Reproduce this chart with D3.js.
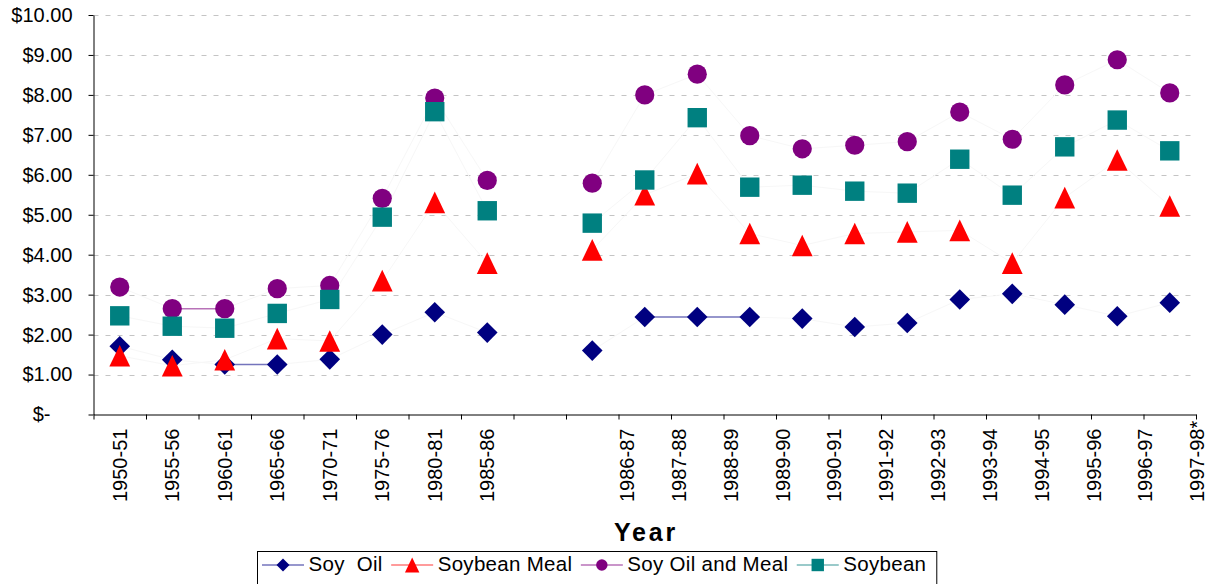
<!DOCTYPE html>
<html>
<head>
<meta charset="utf-8">
<script src="https://cdn.jsdelivr.net/npm/d3@7"></script>
<style>
  html, body { margin: 0; padding: 0; background: #fff; }
  svg { display: block; font-family: "Liberation Sans", Arial, sans-serif; }
  text { white-space: pre; }
</style>
</head>
<body>
<svg id="chart" width="1214" height="584"></svg>
<script>
// Marketing years; the empty slot separates the five-year series from the annual one.
const categories = ["1950-51", "1955-56", "1960-61", "1965-66", "1970-71", "1975-76", "1980-81", "1985-86", "",
  "1986-87", "1987-88", "1988-89", "1989-90", "1990-91", "1991-92", "1992-93", "1993-94", "1994-95",
  "1995-96", "1996-97", "1997-98*"];

// Prices in dollars per bushel equivalent
const soyOil       = [1.71, 1.37, 1.25, 1.25, 1.38, 2.00, 2.56, 2.05, null, 1.60, 2.44, 2.44, 2.44, 2.40, 2.19, 2.29, 2.88, 3.02, 2.75, 2.46, 2.80];
const soybeanMeal  = [1.47, 1.22, 1.37, 1.90, 1.84, 3.35, 5.31, 3.79, null, 4.12, 5.50, 6.03, 4.53, 4.23, 4.53, 4.57, 4.61, 3.79, 5.43, 6.37, 5.22];
const soyOilMeal   = [3.19, 2.65, 2.65, 3.15, 3.23, 5.41, 7.92, 5.86, null, 5.79, 8.00, 8.52, 6.98, 6.65, 6.74, 6.83, 7.57, 6.89, 8.25, 8.88, 8.05];
const soybean      = [2.47, 2.21, 2.16, 2.53, 2.88, 4.94, 7.58, 5.10, null, 4.79, 5.87, 7.43, 5.69, 5.74, 5.59, 5.54, 6.39, 5.49, 6.70, 7.37, 6.60];

const seriesNames  = ["Soy  Oil", "Soybean Meal", "Soy Oil and Meal", "Soybean"];
const yTicks       = [0, 1, 2, 3, 4, 5, 6, 7, 8, 9, 10];
const axisTitle    = "Year";

(function draw() {
  // Marker shapes, drawn around (0,0) with half-size s
  const shapes = {
    diamond:  s => `M0,${-s}L${s},0L0,${s}L${-s},0Z`,
    triangle: s => `M0,${-s * 1.04}L${s},${s * 1.04}L${-s},${s * 1.04}Z`,
    circle:   s => `M${-s},0A${s},${s} 0 1,1 ${s},0A${s},${s} 0 1,1 ${-s},0Z`,
    square:   s => `M${-s},${-s}H${s}V${s}H${-s}Z`
  };

  const series = [
    { name: seriesNames[0], values: soyOil,      shape: "diamond",  size: 10.3, fill: "#000080", line: "#7474bc" },
    { name: seriesNames[1], values: soybeanMeal, shape: "triangle", size: 10.4, fill: "#ff0000", line: "#ff7a7a" },
    { name: seriesNames[2], values: soyOilMeal,  shape: "circle",   size: 9.6,  fill: "#800080", line: "#b872b8" },
    { name: seriesNames[3], values: soybean,     shape: "square",   size: 9.7,  fill: "#008080", line: "#78b8b8" }
  ];

  const svg = d3.select("#chart");
  const plotLeft = 93.5, plotRight = 1196, plotTop = 15, plotBottom = 414.5;

  const x = d3.scaleBand().domain(categories).range([plotLeft, plotRight]).padding(0);
  const xEdge = d3.scaleLinear().domain([0, categories.length]).range([plotLeft, plotRight]);
  const y = d3.scaleLinear().domain([0, 10]).range([plotBottom, plotTop]);
  const cx = c => x(c) + x.bandwidth() / 2;

  // Dashed horizontal gridlines
  svg.append("g").selectAll("line")
    .data(yTicks.filter(d => d > 0))
    .join("line")
    .attr("x1", plotLeft).attr("x2", plotRight)
    .attr("y1", d => Math.round(y(d)) + 0.5).attr("y2", d => Math.round(y(d)) + 0.5)
    .attr("stroke", "#c4c4c4").attr("stroke-width", 1)
    .attr("stroke-dasharray", "5,7");

  // Y axis
  const yAxis = svg.append("g")
    .attr("transform", `translate(${plotLeft},0)`)
    .call(d3.axisLeft(y).tickValues(yTicks)
      .tickFormat(d => d === 0 ? "$-" : d3.format("$.2f")(d))
      .tickSize(5).tickSizeOuter(0).tickPadding(16));
  yAxis.selectAll("text").attr("font-size", 20).attr("fill", "#000")
    .attr("font-family", "Liberation Sans, Arial, sans-serif");
  yAxis.selectAll(".tick").filter(d => d === 0).select("text").attr("dx", -22);
  yAxis.selectAll("path, line").attr("stroke", "#000");

  // X axis: tick marks sit on category boundaries
  const xAxis = svg.append("g")
    .attr("transform", `translate(0,${plotBottom})`)
    .call(d3.axisBottom(xEdge).tickValues(d3.range(categories.length + 1))
      .tickFormat("").tickSize(5).tickSizeOuter(0));
  xAxis.selectAll("path, line").attr("stroke", "#000");

  // Category labels: five-year group centred in its bands, annual group on its own even spacing
  const gapIndex = categories.indexOf("");
  const earlyCats = categories.slice(0, gapIndex);
  const lateCats = categories.slice(gapIndex + 1);
  const bw = x.bandwidth();
  const lateLabelX = d3.scalePoint().domain(lateCats)
    .range([x(lateCats[0]) + bw + 8.5, x(lateCats[lateCats.length - 1]) + bw + 1]);
  const labelX = c => earlyCats.includes(c) ? cx(c) : lateLabelX(c);

  svg.append("g").selectAll("text")
    .data(categories.filter(c => c !== ""))
    .join("text")
    .attr("transform", c => `translate(${labelX(c)},502) rotate(-90)`)
    .attr("dy", "0.36em")
    .attr("text-anchor", "start")
    .attr("font-size", 20)
    .attr("fill", "#000")
    .text(c => c);

  // Axis title
  svg.append("text")
    .attr("x", 646).attr("y", 541)
    .attr("text-anchor", "middle")
    .attr("font-size", 25).attr("font-weight", "bold")
    .attr("letter-spacing", 2.8)
    .attr("fill", "#000")
    .text(axisTitle);

  // Series lines and markers
  const line = d3.line()
    .defined(d => d.v !== null)
    .x(d => cx(d.c)).y(d => y(d.v));

  series.forEach(s => {
    const pts = s.values.map((v, i) => ({ c: categories[i], v }));
    svg.append("path").datum(pts)
      .attr("d", line)
      .attr("fill", "none").attr("stroke", "#f7f7f7").attr("stroke-width", 1);
    // level stretches between consecutive years show as a solid rule
    const flats = [];
    for (let i = 0; i < pts.length - 1; i++) {
      if (pts[i].v !== null && pts[i].v === pts[i + 1].v) flats.push([pts[i], pts[i + 1]]);
    }
    svg.append("g").selectAll("path").data(flats).join("path")
      .attr("d", line)
      .attr("fill", "none").attr("stroke", s.line).attr("stroke-width", 1.5);
  });

  series.forEach(s => {
    const pts = s.values.map((v, i) => ({ c: categories[i], v })).filter(d => d.v !== null);
    svg.append("g").selectAll("path").data(pts).join("path")
      .attr("transform", d => `translate(${cx(d.c)},${y(d.v)})`)
      .attr("d", shapes[s.shape](s.size))
      .attr("fill", s.fill);
  });

  // Legend
  const legend = svg.append("g");
  const legendBox = legend.append("rect")
    .attr("x", 257.5).attr("y", 551.5).attr("height", 40)
    .attr("fill", "#fff").attr("stroke", "#000").attr("stroke-width", 1);
  let lx = 262;
  const ly = 565;
  const legendSizes = { diamond: 6.5, triangle: 7.2, circle: 5.7, square: 6.2 };
  series.forEach(s => {
    legend.append("line")
      .attr("x1", lx).attr("x2", lx + 42).attr("y1", ly).attr("y2", ly)
      .attr("stroke", s.line).attr("stroke-width", 1.5);
    legend.append("path")
      .attr("transform", `translate(${lx + 21},${ly})`)
      .attr("d", shapes[s.shape](legendSizes[s.shape]))
      .attr("fill", s.fill);
    const t = legend.append("text")
      .attr("x", lx + 46.5).attr("y", 570.5)
      .attr("font-size", 20.5).attr("fill", "#000")
      .attr("letter-spacing", 0.3)
      .attr("xml:space", "preserve")
      .text(s.name);
    lx = lx + 46.5 + t.node().getComputedTextLength() + 8.5;
  });
  legendBox.attr("width", lx - 257.5 + 2);
})();
</script>
</body>
</html>
